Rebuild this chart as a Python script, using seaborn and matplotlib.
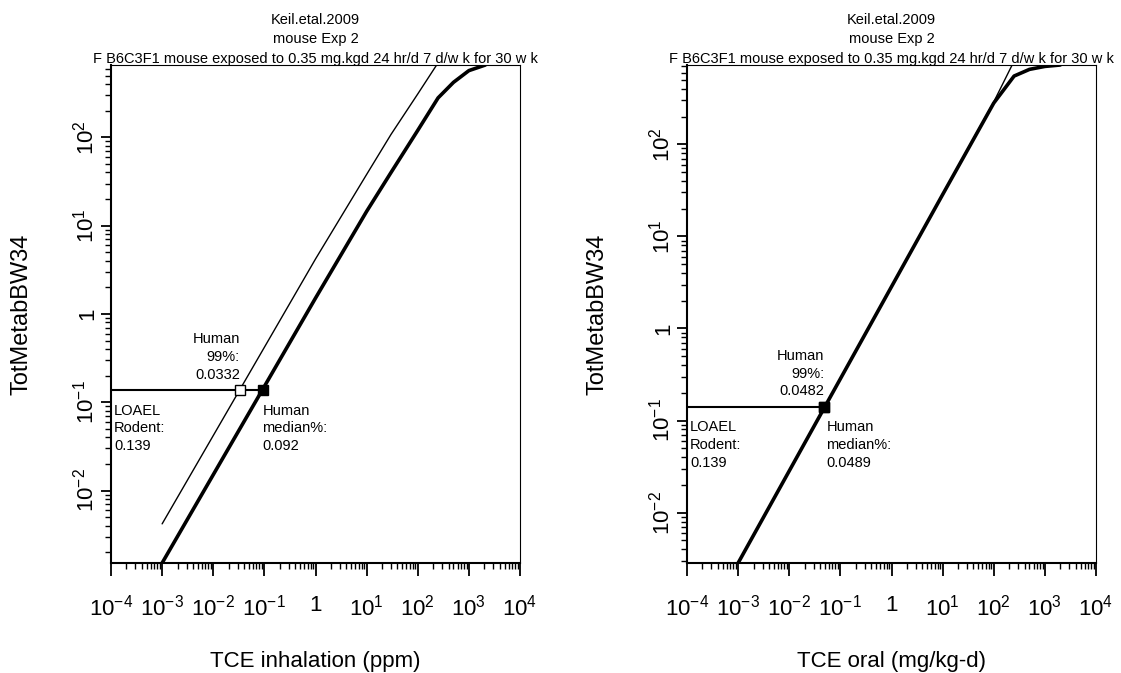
import numpy as np
import pandas as pd
import matplotlib
matplotlib.use("Agg")
import matplotlib.pyplot as plt
import seaborn as sns
from matplotlib.ticker import LogLocator, FuncFormatter, NullFormatter

# ---------------- data ----------------
title_lines = ["Keil.etal.2009", "mouse Exp 2",
               "F B6C3F1 mouse exposed to 0.35 mg.kgd 24 hr/d 7 d/w k for 30 w k"]
y_label = "TotMetabBW34"

inh_dose = [0.001, 0.01, 0.1, 1, 10, 30, 100, 250, 500, 1000, 2100]
inh_median = [0.00151, 0.0151, 0.151, 1.51, 14.5, 40, 120, 280, 420, 570, 660]
inh_p99 = [0.00419, 0.0419, 0.419, 4.19, 38, 108, 310, 700, 1300, 2000, 3000]
inh_loael = 0.139
inh_hed_median = 0.092
inh_hed_p99 = 0.0332

oral_dose = [0.001, 0.01, 0.1, 1, 10, 100, 250, 500, 1000, 2000]
oral_median = [0.00284, 0.0284, 0.284, 2.84, 28.4, 280, 550, 650, 700, 725]
oral_p99 = [0.00288, 0.0288, 0.288, 2.88, 28.8, 288, 800, 1600, 3000, 6000]
oral_loael = 0.139
oral_hed_median = 0.0489
oral_hed_p99 = 0.0482

x_labels = ["TCE inhalation (ppm)", "TCE oral (mg/kg-d)"]

# ---------------- style ----------------
sns.set_style("ticks")
plt.rcParams['font.family'] = ['Liberation Sans', 'DejaVu Sans']
plt.rcParams['mathtext.fontset'] = 'custom'
plt.rcParams['mathtext.rm'] = 'Liberation Sans'
plt.rcParams['mathtext.it'] = 'Liberation Sans:italic'
plt.rcParams['mathtext.bf'] = 'Liberation Sans:bold'
plt.rcParams['mathtext.default'] = 'regular'
for k in ['text.color', 'axes.labelcolor', 'xtick.color', 'ytick.color', 'axes.edgecolor']:
    plt.rcParams[k] = 'black'

W, H = 1121, 673
fig = plt.figure(figsize=(W / 100, H / 100), dpi=100)
ax1 = fig.add_axes([111 / W, 110 / H, 409 / W, 498 / H])
ax2 = fig.add_axes([687 / W, 110 / H, 409 / W, 498 / H])


def log_fmt(v, pos):
    e = int(round(np.log10(v)))
    return "1" if e == 0 else r"$10^{%d}$" % e


def panel(ax, dose, med, p99, loael, hed_med, hed_p99, xlabel, p99_off, med_off):
    df = pd.DataFrame({"dose": dose, "median": med, "p99": p99})
    sns.lineplot(data=df, x="dose", y="p99", ax=ax, color="black",
                 linewidth=1.0, estimator=None, sort=False)
    sns.lineplot(data=df, x="dose", y="median", ax=ax, color="black",
                 linewidth=2.6, estimator=None, sort=False)
    ax.set_xscale("log")
    ax.set_yscale("log")
    ax.set_xlim(1e-4, 1e4)
    ax.set_ylim(min(med), max(med))

    # LOAEL line and human equivalent points
    ax.plot([1e-4, hed_med], [loael, loael], color="black", linewidth=1.5)
    ax.plot([hed_p99], [loael], marker="s", markersize=7.5, markerfacecolor="white",
            markeredgecolor="black", markeredgewidth=1.0, linestyle="none", zorder=5)
    ax.plot([hed_med], [loael], marker="s", markersize=6.5, color="black",
            linestyle="none", zorder=6)

    fs = 10.5
    ls = 1.35
    ax.annotate("Human\n99%:\n" + format(hed_p99, "g"), xy=(hed_p99, loael),
                xytext=p99_off, textcoords="offset pixels", ha="right", va="bottom",
                multialignment="right", fontsize=fs, linespacing=ls)
    ax.annotate("Human\nmedian%:\n" + format(hed_med, "g"), xy=(hed_med, loael),
                xytext=med_off, textcoords="offset pixels", ha="left", va="top",
                fontsize=fs, linespacing=ls)
    ax.annotate("LOAEL\nRodent:\n" + format(loael, "g"), xy=(1e-4, loael),
                xytext=(3, med_off[1]), textcoords="offset pixels", ha="left", va="top",
                fontsize=fs, linespacing=ls)

    # axes styling (R-like)
    for s in ["top", "right"]:
        ax.spines[s].set_linewidth(0.8)
    for s in ["left", "bottom"]:
        ax.spines[s].set_linewidth(1.5)
    for a in (ax.xaxis, ax.yaxis):
        a.set_major_locator(LogLocator(base=10, numticks=100))
        a.set_minor_locator(LogLocator(base=10, subs=np.arange(2, 10), numticks=100))
        a.set_major_formatter(FuncFormatter(log_fmt))
        a.set_minor_formatter(NullFormatter())
    ax.tick_params(which="major", width=1.3, direction="out",
                   labelsize=16, color="black")
    ax.tick_params(which="minor", length=4.5, width=1.0, direction="out", color="black")
    ax.tick_params(axis="x", which="major", length=9, pad=14)
    ax.tick_params(axis="y", which="major", length=7, pad=2, labelrotation=90)
    for lab in ax.get_yticklabels():
        lab.set_va("center")

    ax.set_xlabel(xlabel, fontsize=16)
    ax.set_ylabel(y_label, fontsize=17)
    ax.xaxis.set_label_coords(0.5, -0.177)
    ax.yaxis.set_label_coords(-0.193, 0.5)

    # three-line title
    for i, line in enumerate(title_lines):
        ax.text(0.5, 1 + (65 - (20 + 19.5 * i)) / 498.0,
                line, transform=ax.transAxes, ha="center", va="center", fontsize=10.5)


panel(ax1, inh_dose, inh_median, inh_p99, inh_loael, inh_hed_median, inh_hed_p99,
      x_labels[0], (0, 8), (0, -14))
panel(ax2, oral_dose, oral_median, oral_p99, oral_loael, oral_hed_median, oral_hed_p99,
      x_labels[1], (0, 9), (2, -13))

fig.savefig("out.png", dpi=100)
